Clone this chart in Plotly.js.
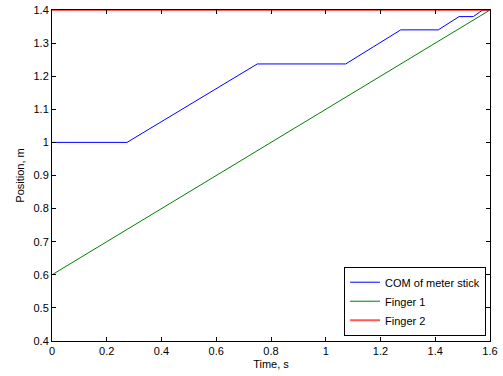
<!DOCTYPE html>
<html>
<head>
<meta charset="utf-8">
<script src="https://cdn.plot.ly/plotly-3.0.1.min.js"></script>
<style>html,body{margin:0;padding:0;background:#fff;}#chart{width:503px;height:376px;}</style>
</head>
<body>
<div id="chart"></div>
<script>
const seriesNames = ["COM of meter stick", "Finger 1", "Finger 2"];
const comTime = [0, 0.274, 0.75, 1.073, 1.274, 1.411, 1.487, 1.539, 1.573, 1.6];
const comPos  = [1.0, 1.0, 1.237, 1.237, 1.34, 1.34, 1.38, 1.38, 1.4, 1.4];
const finger1Time = [0, 1.6];
const finger1Pos  = [0.6, 1.4];
const finger2Time = [0, 1.6];
const finger2Pos  = [1.4, 1.4];
const xTicks = [0, 0.2, 0.4, 0.6, 0.8, 1, 1.2, 1.4, 1.6];
const yTicks = [0.4, 0.5, 0.6, 0.7, 0.8, 0.9, 1, 1.1, 1.2, 1.3, 1.4];

const font = {family: "Liberation Sans, Arial, sans-serif", size: 11, color: "#000"};
const traces = [
  {x: comTime, y: comPos, name: seriesNames[0], mode: "lines", line: {color: "#0000ff", width: 1}},
  {x: finger1Time, y: finger1Pos, name: seriesNames[1], mode: "lines", line: {color: "#008000", width: 1}},
  {x: finger2Time, y: finger2Pos, name: seriesNames[2], mode: "lines", line: {color: "rgba(255,0,0,0.65)", width: 2}}
];
const axisCommon = {
  showgrid: false, zeroline: false, showline: true, mirror: "ticks",
  linecolor: "#000", linewidth: 1, ticks: "inside", ticklen: 4, tickcolor: "#000",
  tickfont: font
};
const layout = {
  width: 503, height: 376,
  margin: {l: 52, r: 13, t: 10, b: 35},
  paper_bgcolor: "#fff", plot_bgcolor: "#fff",
  font: font,
  showlegend: true,
  legend: {x: 0.991, y: 0.016, xanchor: "right", yanchor: "bottom",
           bgcolor: "#fff", bordercolor: "#000", borderwidth: 1, font: font,
           tracegroupgap: 0, itemwidth: 30},
  xaxis: Object.assign({}, axisCommon, {range: [0, 1.6], tickvals: xTicks,
    title: {text: "Time, s", font: font, standoff: 4}}),
  yaxis: Object.assign({}, axisCommon, {range: [0.4, 1.4], tickvals: yTicks,
    title: {text: "Position, m", font: font, standoff: 6}})
};
Plotly.newPlot("chart", traces, layout, {displayModeBar: false, staticPlot: true});
</script>
</body>
</html>
